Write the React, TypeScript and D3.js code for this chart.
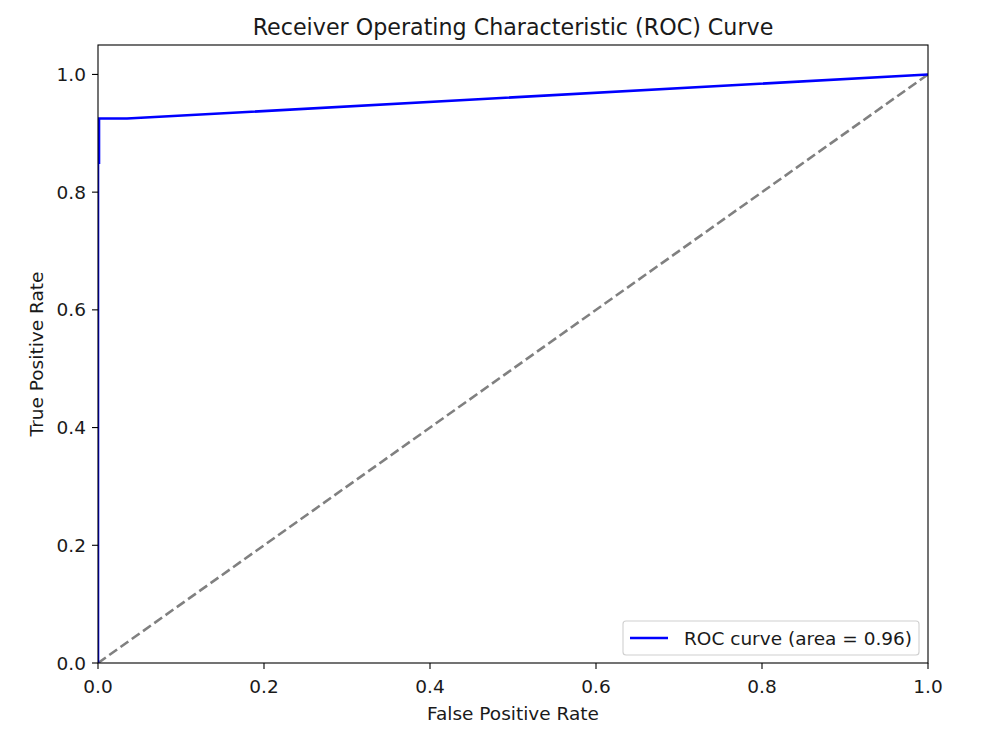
import React from "react";
import * as d3 from "d3";

const rocFpr = [0, 0, 0.0012, 0.0012, 0.035, 1.0];
const rocTpr = [0, 0.85, 0.85, 0.925, 0.925, 1.0];
const diagX = [0, 1];
const diagY = [0, 1];
const xTicks = [0, 0.2, 0.4, 0.6, 0.8, 1.0];
const yTicks = [0, 0.2, 0.4, 0.6, 0.8, 1.0];
const legendLabel = "ROC curve (area = 0.96)";

export default function App() {
  const W = 1000, H = 750;
  const L = 98, R = 928, T = 45, B = 663;
  const x = d3.scaleLinear().domain([0, 1]).range([L, R]);
  const y = d3.scaleLinear().domain([0, 1.05]).range([B, T]);
  const line = d3.line<[number, number]>().x(d => x(d[0])).y(d => y(d[1]));
  const roc = rocFpr.map((v, i) => [v, rocTpr[i]] as [number, number]);
  const diag = diagX.map((v, i) => [v, diagY[i]] as [number, number]);
  const font = "DejaVu Sans, sans-serif";
  const fs = 18.5;
  return (
    <svg width={W} height={H} style={{ position: "absolute", left: 0, top: 0 }} fontFamily={font}>
      <rect x={0} y={0} width={W} height={H} fill="white" />
      <text x={(L + R) / 2} y={35} textAnchor="middle" fontSize={22.2} fill="#1a1a1a">
        Receiver Operating Characteristic (ROC) Curve
      </text>
      <defs>
        <clipPath id="clip"><rect x={L} y={T} width={R - L} height={B - T} /></clipPath>
      </defs>
      <g clipPath="url(#clip)">
        <path d={line(diag) || ""} fill="none" stroke="gray" strokeWidth={2.6} strokeDasharray="9.6,4.2" />
        <path d={line(roc) || ""} fill="none" stroke="blue" strokeWidth={2.6} />
      </g>
      <rect x={L} y={T} width={R - L} height={B - T} fill="none" stroke="black" strokeWidth={1.1} />
      {xTicks.map(t => (
        <g key={"x" + t}>
          <line x1={x(t)} x2={x(t)} y1={B} y2={B + 6} stroke="black" strokeWidth={1.1} />
          <text x={x(t)} y={B + 30} textAnchor="middle" fontSize={fs} fill="#1a1a1a">{t.toFixed(1)}</text>
        </g>
      ))}
      {yTicks.map(t => (
        <g key={"y" + t}>
          <line x1={L - 6} x2={L} y1={y(t)} y2={y(t)} stroke="black" strokeWidth={1.1} />
          <text x={L - 12} y={y(t) + 6.5} textAnchor="end" fontSize={fs} fill="#1a1a1a">{t.toFixed(1)}</text>
        </g>
      ))}
      <text x={(L + R) / 2} y={720} textAnchor="middle" fontSize={fs} fill="#1a1a1a">False Positive Rate</text>
      <text transform={`translate(43,${(T + B) / 2}) rotate(-90)`} textAnchor="middle" fontSize={fs} fill="#1a1a1a">True Positive Rate</text>
      <g>
        <rect x={623} y={621} width={296} height={34} rx={3} fill="white" fillOpacity={0.8} stroke="#d0d0d0" strokeWidth={1.1} />
        <line x1={630} x2={668} y1={638} y2={638} stroke="blue" strokeWidth={2.6} />
        <text x={684} y={645} fontSize={fs} fill="#1a1a1a">{legendLabel}</text>
      </g>
    </svg>
  );
}
